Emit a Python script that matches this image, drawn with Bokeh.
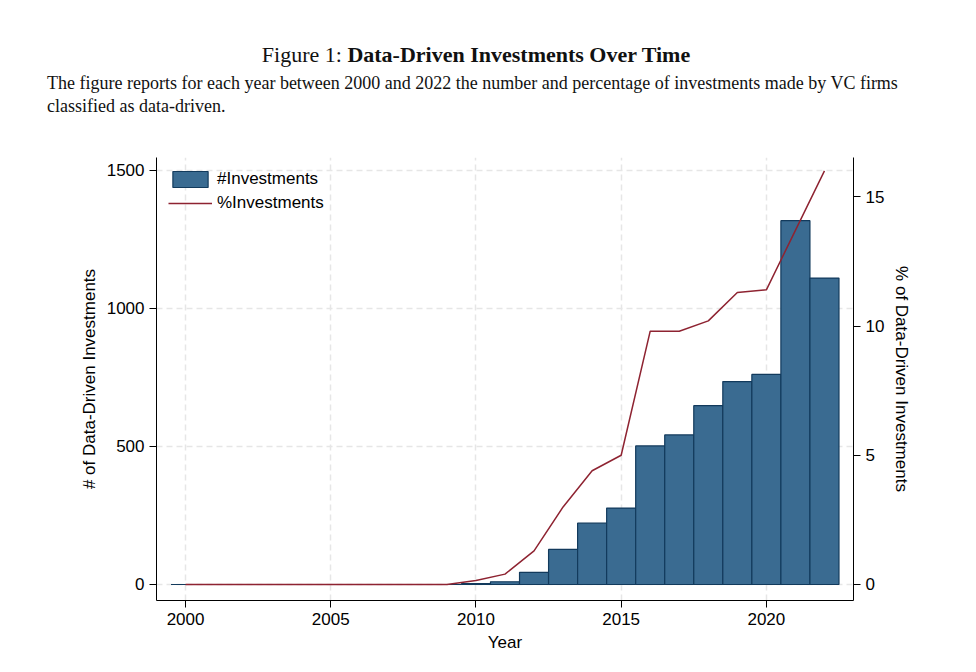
from bokeh.plotting import figure
from bokeh.models import Range1d, LinearAxis, Div, Legend, LegendItem, FixedTicker
from bokeh.layouts import column
from bokeh.embed import file_html
from bokeh.resources import INLINE

years = list(range(2000, 2023))
counts = [0]*10 + [3, 10, 44, 127, 222, 277, 502, 542, 648, 735, 761, 1318, 1110]
pct = [0]*10 + [0.15, 0.4, 1.3, 3.0, 4.4, 5.0, 9.8, 9.8, 10.2, 11.3, 11.4, 13.7, 16.0]

title = Div(text=("<div style='font-family:\"Liberation Serif\",serif;color:#111'>"
    "<div style='text-align:center;font-size:22px;margin-top:34px'>Figure 1: <b>Data-Driven Investments Over Time</b></div>"
    "<div style='font-size:18px;line-height:23px;margin-top:2px;margin-left:42px;width:900px'>The figure reports for each year between 2000 and 2022 the number and percentage of investments made by VC firms classified as data-driven.</div></div>"),
    width=960, height=122)

p = figure(width=914, height=530, output_backend="svg", toolbar_location=None,
           x_range=Range1d(1999.0, 2023.0), y_range=Range1d(-58, 1547),
           min_border_left=156, min_border_right=56, min_border_top=25, min_border_bottom=62)
p.extra_y_ranges = {"pct": Range1d(-0.62, 16.52)}
p.outline_line_color = None
for g in (p.xgrid, p.ygrid):
    g.grid_line_color = "#e6e6e6"; g.grid_line_dash = "6 4"; g.grid_line_width = 1.5
p.ygrid.ticker = FixedTicker(ticks=[0, 500, 1000, 1500])
p.xgrid.ticker = FixedTicker(ticks=[2000, 2005, 2010, 2015, 2020])

bars = p.vbar(x=years, top=counts, width=1.0, fill_color="#3a6b91", line_color="#123a5c", line_width=1.2)
ln = p.line(x=years, y=pct, y_range_name="pct", line_color="#8e2331", line_width=1.5)

right = LinearAxis(y_range_name="pct", ticker=FixedTicker(ticks=[0, 5, 10, 15]),
                   axis_label="% of Data-Driven Investments")
p.add_layout(right, "right")
p.yaxis[0].ticker = FixedTicker(ticks=[0, 500, 1000, 1500])
p.yaxis[0].axis_label = "# of Data-Driven Investments"
p.xaxis.ticker = FixedTicker(ticks=[2000, 2005, 2010, 2015, 2020])
p.xaxis.axis_label = "Year"
for ax in p.xaxis + p.yaxis:
    ax.major_label_text_font = "Liberation Sans"; ax.major_label_text_font_size = "17px"
    ax.axis_label_text_font = "Liberation Sans"; ax.axis_label_text_font_size = "17px"
    ax.axis_label_text_font_style = "normal"; ax.minor_tick_line_color = None
    ax.major_tick_out = 7; ax.major_tick_in = 0
    ax.axis_line_color = "black"; ax.major_label_text_color = "black"
    ax.axis_label_text_color = "black"
p.yaxis[0].major_label_orientation = "horizontal"
right.major_label_orientation = "horizontal"
right.axis_label_orientation = "vertical"

leg = Legend(items=[LegendItem(label="#Investments", renderers=[bars]),
                    LegendItem(label="%Investments", renderers=[ln])],
             location="top_left", border_line_color=None, background_fill_alpha=0,
             label_text_font="Liberation Sans", label_text_font_size="17px",
             label_text_color="black",
             glyph_width=44, spacing=4, margin=12)
p.add_layout(leg)

open("out.html", "w").write(file_html(column(title, p, spacing=0), INLINE))
